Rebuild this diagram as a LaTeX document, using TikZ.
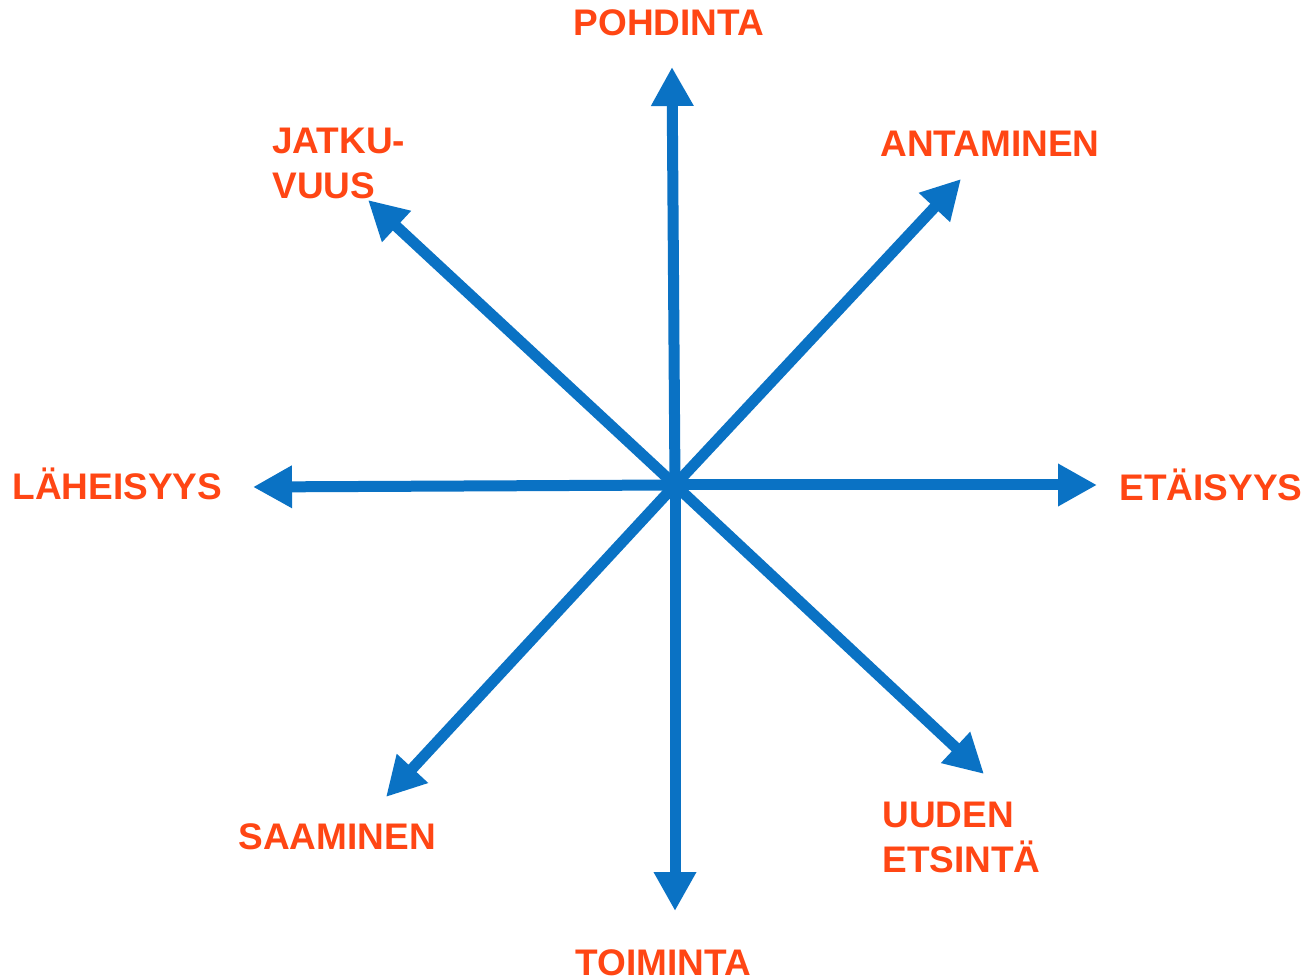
\documentclass[tikz,border=0pt]{standalone}
\usepackage{fontspec}
\setmainfont{Liberation Sans}
\usetikzlibrary{arrows.meta}
\definecolor{nuolisini}{HTML}{0A72C4}
\definecolor{tekstipuna}{HTML}{FF4614}

\begin{document}
\begin{tikzpicture}[x=0.5pt, y=-0.5pt,
    nuoli/.style={line width=5.5pt, draw=nuolisini, -{Triangle[length=19.5pt, width=20pt]}},
    sana/.style={text=tekstipuna, inner sep=0pt, align=left,
        font=\fontsize{18.5}{22.5}\selectfont\bfseries}]
    \useasboundingbox (0,0) rectangle (1307,978);

    % Keskipiste ja nuolten kärjet
    \coordinate (keskus) at (675,485);
    \coordinate (ylos) at (672,67);
    \coordinate (alas) at (675,911);
    \coordinate (vasen) at (253,487);
    \coordinate (oikea) at (1097,485);
    \coordinate (vasylos) at (368,200);
    \coordinate (oikylos) at (961,179);
    \coordinate (vasalas) at (386,797);
    \coordinate (oikalas) at (984,774);

    % Nuolet
    \draw[nuoli] (keskus) -- (ylos);
    \draw[nuoli] (keskus) -- (alas);
    \draw[nuoli] (keskus) -- (vasen);
    \draw[nuoli] (keskus) -- (oikea);
    \draw[nuoli] (keskus) -- (vasylos);
    \draw[nuoli] (keskus) -- (oikylos);
    \draw[nuoli] (keskus) -- (vasalas);
    \draw[nuoli] (keskus) -- (oikalas);

    % Sanat
    \node[sana, anchor=base] (pohdinta) at (669,36) {POHDINTA};
    \node[sana, anchor=base] (toiminta) at (663,975) {TOIMINTA};
    \node[sana, anchor=base west] (laheisyys) at (12,500) {LÄHEISYYS};
    \node[sana, anchor=base west] (etaisyys) at (1119,501) {ETÄISYYS};
    \node[sana, anchor=north west] (jatkuvuus) at (272,128) {JATKU-\\VUUS};
    \node[sana, anchor=base west] (antaminen) at (880,157) {ANTAMINEN};
    \node[sana, anchor=base west] (saaminen) at (238,849) {SAAMINEN};
    \node[sana, anchor=north west] (etsinta) at (882,802) {UUDEN\\ETSINTÄ};
\end{tikzpicture}
\end{document}
